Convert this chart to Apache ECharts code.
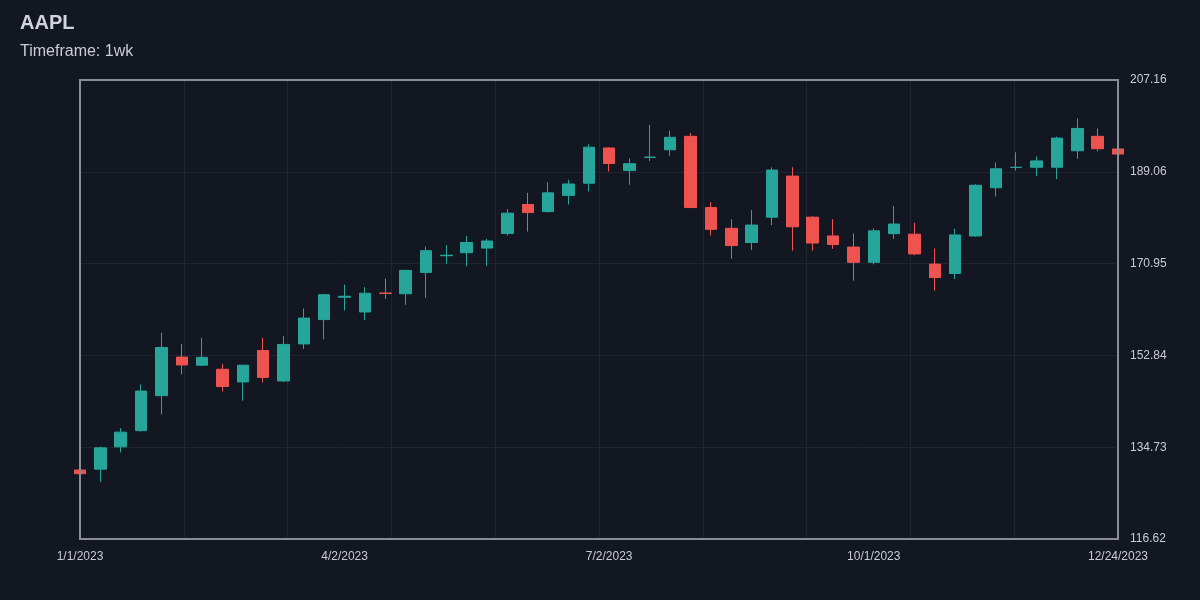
<!DOCTYPE html>
<html>
<head>
<meta charset="utf-8">
<title>AAPL weekly</title>
<script src="https://cdn.jsdelivr.net/npm/echarts@6/dist/echarts.min.js"></script>
<style>
  html, body { margin: 0; padding: 0; background: #131722; }
  #chart { width: 1200px; height: 600px; }
</style>
</head>
<body>
<div id="chart"></div>
<script>
// weekly candles, 2023
var weeks = [
    '1/1/2023','1/8/2023','1/15/2023','1/22/2023','1/29/2023',
    '2/5/2023','2/12/2023','2/19/2023','2/26/2023',
    '3/5/2023','3/12/2023','3/19/2023','3/26/2023',
    '4/2/2023','4/9/2023','4/16/2023','4/23/2023','4/30/2023',
    '5/7/2023','5/14/2023','5/21/2023','5/28/2023',
    '6/4/2023','6/11/2023','6/18/2023','6/25/2023',
    '7/2/2023','7/9/2023','7/16/2023','7/23/2023','7/30/2023',
    '8/6/2023','8/13/2023','8/20/2023','8/27/2023',
    '9/3/2023','9/10/2023','9/17/2023','9/24/2023',
    '10/1/2023','10/8/2023','10/15/2023','10/22/2023','10/29/2023',
    '11/5/2023','11/12/2023','11/19/2023','11/26/2023',
    '12/3/2023','12/10/2023','12/17/2023','12/24/2023'
];

var openVals = [
    130.23, 130.4, 134.8, 138.0, 144.9, 152.5, 150.9, 150.1, 147.6, 153.8,
    147.8, 155.1, 159.9, 164.3, 161.4, 165.15, 165.0, 169.2, 172.5, 173.1,
    174.0, 176.9, 182.6, 181.2, 184.4, 186.8, 193.75, 189.3, 191.9, 193.4,
    196.05, 182.0, 177.9, 175.1, 180.1, 188.2, 180.1, 176.4, 174.2, 171.2,
    176.85, 176.75, 170.85, 169.0, 176.4, 185.9, 189.9, 189.95, 189.95, 193.2,
    196.05, 193.55
];
var closeVals = [
    129.5, 134.6, 137.7, 145.8, 154.4, 150.95, 152.45, 146.7, 150.9, 148.5,
    155.0, 160.2, 164.8, 164.5, 165.1, 165.05, 169.6, 173.5, 172.6, 175.1,
    175.4, 180.9, 181.0, 184.9, 186.65, 193.9, 190.7, 190.65, 191.95, 195.85,
    182.0, 177.7, 174.5, 178.55, 189.4, 178.2, 175.0, 174.7, 171.2, 177.4,
    178.75, 172.85, 168.2, 176.6, 186.4, 189.65, 189.95, 191.2, 195.7, 197.6,
    193.6, 192.55
];
var lowVals = [
    124.0, 127.9, 133.7, 137.8, 141.2, 149.1, 150.8, 145.7, 143.9, 147.5,
    147.6, 154.1, 156.0, 161.7, 159.8, 164.0, 162.8, 164.2, 170.9, 170.4,
    170.5, 176.5, 177.25, 181.0, 182.6, 185.2, 189.1, 186.5, 191.2, 192.2,
    181.9, 176.5, 171.9, 173.6, 178.55, 173.5, 173.5, 173.85, 167.6, 170.8,
    175.8, 172.6, 165.6, 167.9, 176.2, 184.2, 189.3, 188.2, 187.6, 191.6,
    193.1, 191.1
];
var highVals = [
    130.9, 134.85, 138.5, 147.1, 157.3, 155.1, 156.3, 151.1, 151.0, 156.3,
    156.7, 162.1, 165.0, 166.8, 166.3, 168.0, 169.75, 174.3, 174.6, 176.4,
    175.8, 181.7, 184.9, 187.0, 187.5, 194.5, 193.9, 191.7, 198.3, 197.2,
    196.7, 183.1, 179.7, 181.5, 189.95, 189.95, 180.3, 179.7, 176.9, 177.9,
    182.3, 179.0, 173.9, 177.8, 186.6, 190.9, 192.9, 192.1, 196.0, 199.6,
    197.6, 194.65
];

// axis ticks
var xLabelIdx = [0, 13, 26, 39, 51];
var yTickLabels = ['116.62', '134.73', '152.84', '170.95', '189.06', '207.16'];
var yMin = 116.62, yMax = 207.16;
var yStep = (yMax - yMin) / 5;

var upColor = '#26a69a';
var downColor = '#ef5350';
var textColor = '#c9ccd3';
var gridColor = '#1f2430';

var candles = weeks.map(function (w, i) {
    return [openVals[i], closeVals[i], lowVals[i], highVals[i]];
});

var chart = echarts.init(document.getElementById('chart'));

var option = {
    backgroundColor: '#131722',
    animation: false,
    title: {
        text: 'AAPL',
        subtext: 'Timeframe: 1wk',
        left: 15,
        top: 8,
        itemGap: 11,
        textStyle: {
            color: '#d1d4dc',
            fontSize: 20,
            fontWeight: 'bold',
            fontFamily: 'Liberation Sans'
        },
        subtextStyle: {
            color: textColor,
            fontSize: 16,
            fontFamily: 'Liberation Sans'
        }
    },
    grid: {
        left: 80,
        right: 82,
        top: 80,
        bottom: 61,
        show: true,
        borderColor: '#8a8c96',
        borderWidth: 2,
        backgroundColor: 'transparent',
        z: 3
    },
    xAxis: [
        {
            type: 'category',
            data: weeks,
            boundaryGap: false,
            axisLine: { show: false },
            axisTick: { show: false },
            splitLine: { show: false },
            axisLabel: {
                color: textColor,
                fontSize: 12,
                fontFamily: 'Liberation Sans',
                margin: 12,
                interval: function (idx) {
                    return xLabelIdx.indexOf(idx) >= 0;
                }
            }
        },
        {
            // only for the vertical grid lines
            type: 'value',
            min: 0,
            max: 10,
            interval: 1,
            position: 'bottom',
            axisLine: { show: false },
            axisTick: { show: false },
            axisLabel: { show: false },
            splitLine: {
                show: true,
                showMinLine: false,
                showMaxLine: false,
                lineStyle: { color: gridColor, width: 1 }
            }
        }
    ],
    yAxis: {
        type: 'value',
        position: 'right',
        min: yMin,
        max: yMax,
        interval: yStep,
        axisLine: { show: false },
        axisTick: { show: false },
        splitLine: {
            show: true,
            showMinLine: false,
            showMaxLine: false,
            lineStyle: { color: gridColor, width: 1 }
        },
        axisLabel: {
            color: textColor,
            fontSize: 12,
            fontFamily: 'Liberation Sans',
            margin: 12,
            showMinLabel: true,
            showMaxLabel: true,
            formatter: function (v) {
                var k = Math.round((v - yMin) / yStep);
                return yTickLabels[k] || '';
            }
        }
    },
    series: [
        {
            type: 'candlestick',
            name: 'AAPL',
            xAxisIndex: 0,
            data: candles,
            barWidth: 12,
            clip: false,
            itemStyle: {
                color: upColor,
                color0: downColor,
                borderColor: upColor,
                borderColor0: downColor,
                borderWidth: 1
            }
        }
    ]
};

chart.setOption(option);
</script>
</body>
</html>
